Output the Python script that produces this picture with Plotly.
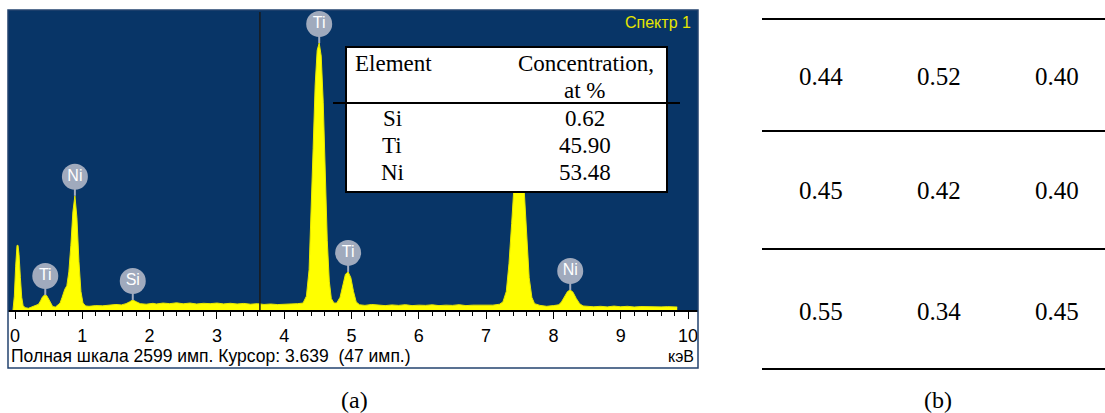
import plotly.graph_objects as go

# ---------------- data ----------------
energy_kev = [
    -0.03, -0.01, 0.01, 0.03, 0.045, 0.06, 0.08, 0.10, 0.12, 0.15, 0.20, 0.25, 0.30,
    0.35, 0.38, 0.41, 0.44, 0.47, 0.50, 0.53, 0.56, 0.60, 0.64,
    0.67, 0.70, 0.74, 0.77, 0.80, 0.83, 0.86, 0.89, 0.92, 0.95, 0.98, 1.01, 1.05,
    1.10, 1.20, 1.30, 1.40, 1.50, 1.58, 1.65,
    1.70, 1.75, 1.80, 1.86,
    1.95, 2.05, 2.10, 2.20, 2.30, 2.40, 2.50, 2.60, 2.70, 2.80, 2.90, 3.00, 3.10,
    3.20, 3.30, 3.40, 3.50, 3.60, 3.70, 3.80, 3.90, 4.00, 4.10, 4.20,
    4.28, 4.33, 4.37, 4.40, 4.43, 4.46, 4.49, 4.52, 4.55, 4.58, 4.61, 4.64, 4.67, 4.70, 4.74,
    4.78, 4.83, 4.87, 4.91, 4.95, 4.99, 5.03, 5.07, 5.12,
    5.20, 5.30, 5.40, 5.50, 5.60, 5.70, 5.80, 5.90, 6.00, 6.10, 6.20, 6.30, 6.40,
    6.50, 6.60, 6.70, 6.80, 6.90, 7.00, 7.10, 7.20,
    7.25, 7.30, 7.34, 7.38, 7.42, 7.46, 7.49, 7.52, 7.56, 7.60, 7.64, 7.68, 7.72,
    7.80, 7.90, 8.00, 8.08,
    8.12, 8.17, 8.21, 8.25, 8.29, 8.34, 8.39, 8.44,
    8.50, 8.60, 8.70, 8.80, 8.90, 9.00, 9.10, 9.20, 9.30, 9.40, 9.50, 9.60, 9.70, 9.84,
]
counts = [
    0, 120, 380, 560, 560, 480, 280, 110, 40, 20, 15, 25, 35,
    50, 80, 115, 130, 125, 95, 55, 30, 25, 45,
    60, 110, 180, 210, 330, 560, 850, 990, 800, 420, 160, 60, 35,
    32, 38, 36, 45, 48, 44, 55,
    70, 87, 72, 55,
    50, 58, 52, 60, 55, 62, 54, 60, 52, 58, 55, 60, 53,
    58, 52, 57, 50, 55, 48, 52, 47, 50, 48, 55,
    60, 120, 350, 800, 1400, 1950, 2250, 2313, 2200, 1800, 1200, 600, 250, 100, 60,
    60, 110, 220, 310, 330, 280, 160, 70, 45,
    40, 48, 42, 38, 44, 40, 46, 38, 42, 40, 45, 38, 42,
    40, 46, 38, 42, 40, 44, 42, 50,
    70, 160, 400, 750, 1150, 1500, 1600, 1480, 1100, 650, 280, 110, 55,
    40, 32, 38, 45,
    70, 120, 160, 173, 155, 100, 55, 35,
    30, 28, 32, 27, 34, 28, 32, 26, 30, 28, 32, 27, 29, 26,
]

peak_labels = ["Ti", "Ni", "Si", "Ti", "Ti", "Ni", "Ni"]
peak_kev = [0.45, 0.89, 1.75, 4.52, 4.95, 7.49, 8.25]
peak_counts = [130, 990, 87, 2313, 330, 1600, 173]

full_scale = 2599
cursor_kev = 3.639
cursor_counts = 47
spectrum_name = "Спектр 1"

elements = ["Si", "Ti", "Ni"]
concentration = [0.62, 45.90, 53.48]

table_b = [
    [0.44, 0.52, 0.40],
    [0.45, 0.42, 0.40],
    [0.55, 0.34, 0.45],
]

# ---------------- layout helpers ----------------
W, H = 1105, 413
def px(x):
    return x / W
def py(y):
    return 1 - y / H

X0_PX, KEV_PX = 15.0, 67.3          # pixel of 0 keV, pixels per keV
def kev_at(x):
    return (x - X0_PX) / KEV_PX

PLOT_L, PLOT_R, PLOT_T, PLOT_B = 8, 698, 10, 310
count_per_px = full_scale / (PLOT_B - PLOT_T)
label_off = 19 * count_per_px

serif = "Liberation Serif"
sans = "Liberation Sans"

fig = go.Figure()

fig.add_trace(go.Scatter(
    x=energy_kev, y=counts, mode="lines", fill="tozeroy",
    fillcolor="#FFFF00", line=dict(color="#E8E800", width=1),
    hoverinfo="skip", showlegend=False,
))

stem_x, stem_y = [], []
for e, c in zip(peak_kev, peak_counts):
    stem_x += [e, e, None]
    stem_y += [c, c + label_off, None]
fig.add_trace(go.Scatter(
    x=stem_x, y=stem_y, mode="lines",
    line=dict(color="#A3ADC0", width=2), hoverinfo="skip", showlegend=False,
))
fig.add_trace(go.Scatter(
    x=peak_kev, y=[c + label_off for c in peak_counts], mode="markers+text",
    text=peak_labels, textposition="middle center",
    textfont=dict(family=sans, size=16, color="white"),
    marker=dict(size=26, color="#A0AABD", line=dict(width=0)),
    cliponaxis=False, hoverinfo="skip", showlegend=False,
))

shapes = []
# panel border
shapes.append(dict(type="rect", xref="paper", yref="paper",
                   x0=px(PLOT_L), x1=px(PLOT_R), y0=py(368), y1=py(PLOT_T),
                   line=dict(color="#23436F", width=1.5), layer="above"))
# cursor
shapes.append(dict(type="line", xref="x", yref="paper",
                   x0=cursor_kev, x1=cursor_kev, y0=py(PLOT_B), y1=py(PLOT_T + 2),
                   line=dict(color="#1A1A1A", width=1.5), layer="above"))
# inset table box
shapes.append(dict(type="rect", xref="paper", yref="paper",
                   x0=px(346), x1=px(667), y0=py(192), y1=py(47),
                   fillcolor="white", line=dict(color="black", width=2), layer="above"))
shapes.append(dict(type="line", xref="paper", yref="paper",
                   x0=px(333), x1=px(680), y0=py(103), y1=py(103),
                   line=dict(color="black", width=2), layer="above"))
# panel (b) rules
for yy in [19, 131, 249, 369]:
    shapes.append(dict(type="line", xref="paper", yref="paper",
                       x0=px(762), x1=px(1105), y0=py(yy), y1=py(yy),
                       line=dict(color="black", width=2)))

ann = []
def text(x, y, s, size, family, color="black", xanchor="center"):
    ann.append(dict(x=px(x), y=py(y), xref="paper", yref="paper", text=s,
                    showarrow=False, xanchor=xanchor, yanchor="middle",
                    font=dict(family=family, size=size, color=color)))

text(693, 22, spectrum_name, 16, sans, "#E6E600", "right")
text(9, 356, f"Полная шкала {full_scale} имп. Курсор: {cursor_kev:.3f}\u00a0 ({cursor_counts} имп.)",
     17.5, sans, "black", "left")
text(696, 356, "кэВ", 16, sans, "black", "right")

text(353, 63, "Element", 23, serif, xanchor="left")
text(586, 63, "Concentration,", 23, serif)
text(585, 90, "at %", 23, serif)
for i, (el, c) in enumerate(zip(elements, concentration)):
    yy = 118 + 27 * i
    text(392, yy, el, 23, serif)
    text(585, yy, f"{c:.2f}", 23, serif)

col_x = [821, 939, 1057]
row_y = [76, 191, 311]
for r, row in enumerate(table_b):
    for c, v in enumerate(row):
        text(col_x[c], row_y[r], f"{v:.2f}", 25, serif)

text(354, 400, "(a)", 24, serif)
text(938, 400, "(b)", 24, serif)

fig.update_layout(
    width=W, height=H, margin=dict(l=0, r=0, t=0, b=0),
    paper_bgcolor="white", plot_bgcolor="#083567",
    showlegend=False, shapes=shapes, annotations=ann,
    xaxis=dict(
        domain=[px(PLOT_L), px(PLOT_R)], range=[kev_at(PLOT_L), kev_at(PLOT_R)],
        showgrid=False, zeroline=False, showline=True, linecolor="black", linewidth=2,
        ticks="outside", ticklen=7, tickwidth=1, tickcolor="black",
        tick0=0, dtick=1, ticklabelstandoff=1,
        tickfont=dict(family=sans, size=18, color="black"),
        minor=dict(dtick=0.2, ticks="outside", ticklen=4, tickwidth=1, tickcolor="black"),
        fixedrange=True,
    ),
    yaxis=dict(
        domain=[py(PLOT_B), py(PLOT_T)], range=[0, full_scale],
        visible=False, showgrid=False, zeroline=False, fixedrange=True,
    ),
)

fig.write_html(
    "out.html",
    config={"displayModeBar": False},
    post_script="document.body.style.margin='0';document.body.style.overflow='hidden';",
)
